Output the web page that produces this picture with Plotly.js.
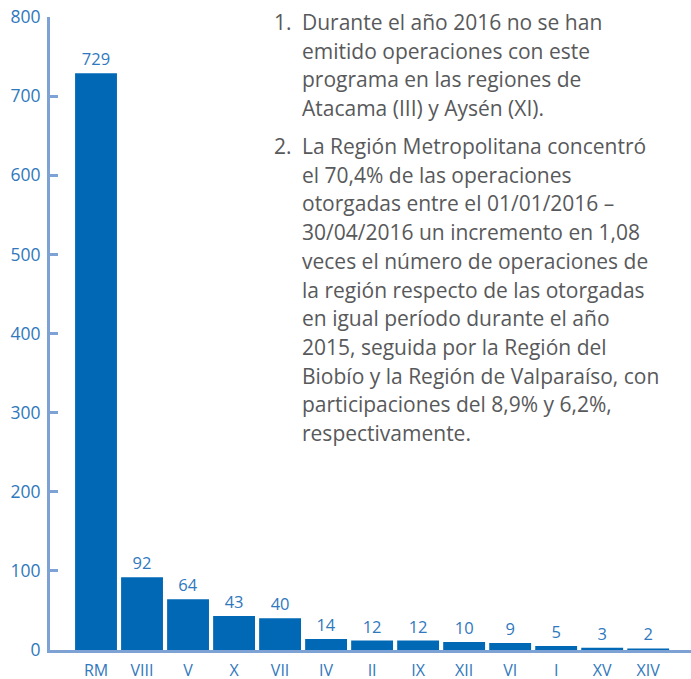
<!DOCTYPE html>
<html><head><meta charset="utf-8">
<script src="https://cdn.plot.ly/plotly-3.0.1.min.js"></script>
<style>html,body{margin:0;padding:0;background:#fff}</style>
</head><body>
<div id="chart" style="width:691px;height:679px"></div>
<script>
const regions = ["RM","VIII","V","X","VII","IV","II","IX","XII","VI","I","XV","XIV"];
const operaciones = [729,92,64,43,40,14,12,12,10,9,5,3,2];
const yTicks = [0,100,200,300,400,500,600,700,800];
const note1 = ["Durante el año 2016 no se han","emitido operaciones con este","programa en las regiones de","Atacama (III) y Aysén (XI)."];
const note2 = ["La Región Metropolitana concentró","el 70,4% de las operaciones","otorgadas entre el 01/01/2016 –","30/04/2016 un incremento en 1,08","veces el número de operaciones de","la región respecto de las otorgadas","en igual período durante el año","2015, seguida por la Región del","Biobío y la Región de Valparaíso, con","participaciones del 8,9% y 6,2%,","respectivamente."];

const W=691,H=679,L=50,R=0,T=17,B=29;
const pw=W-L-R, ph=H-T-B;
const px=x=>(x-L)/pw, py=y=>(H-B-y)/ph;
const textFont={family:"Open Sans, sans-serif",size:21,color:"#58595b"};
const ann=[];
function addLines(num,lines,y0){
  ann.push({xref:'paper',yref:'paper',x:px(273),y:py(y0),xanchor:'left',yanchor:'middle',text:num,showarrow:false,font:textFont,borderpad:0});
  lines.forEach((t,i)=>ann.push({xref:'paper',yref:'paper',x:px(301),y:py(y0+i*28.7),xanchor:'left',yanchor:'middle',text:t,showarrow:false,font:textFont,borderpad:0}));
}
addLines("1.",note1,22);
addLines("2.",note2,146);

Plotly.newPlot('chart',[{
  type:'bar',x:regions,y:operaciones,
  marker:{color:'#0068b4'},
  text:operaciones.map(String),textposition:'outside',cliponaxis:false,
  textfont:{family:"Open Sans, sans-serif",size:16.5,color:'#2f78bd'},
  hoverinfo:'none'
}],{
  width:W,height:H,margin:{l:L,r:R,t:T,b:B},
  paper_bgcolor:'#fff',plot_bgcolor:'#fff',
  showlegend:false,bargap:0.09,
  xaxis:{type:'category',range:[-1,12.93],showline:true,linecolor:'#7ea2d4',linewidth:3,
    ticks:'',showgrid:false,zeroline:false,ticklabelstandoff:4,
    tickfont:{family:"Open Sans, sans-serif",size:16,color:'#2f78bd'}},
  yaxis:{range:[0,800],tickvals:yTicks,showline:true,linecolor:'#7ea2d4',linewidth:3,
    ticks:'inside',ticklen:8,tickwidth:3,tickcolor:'#7ea2d4',showgrid:false,zeroline:false,
    ticklabelstandoff:3,
    tickfont:{family:"Open Sans, sans-serif",size:17.5,color:'#2f78bd'}},
  annotations:ann
},{displayModeBar:false,staticPlot:true});
</script>
</body></html>
